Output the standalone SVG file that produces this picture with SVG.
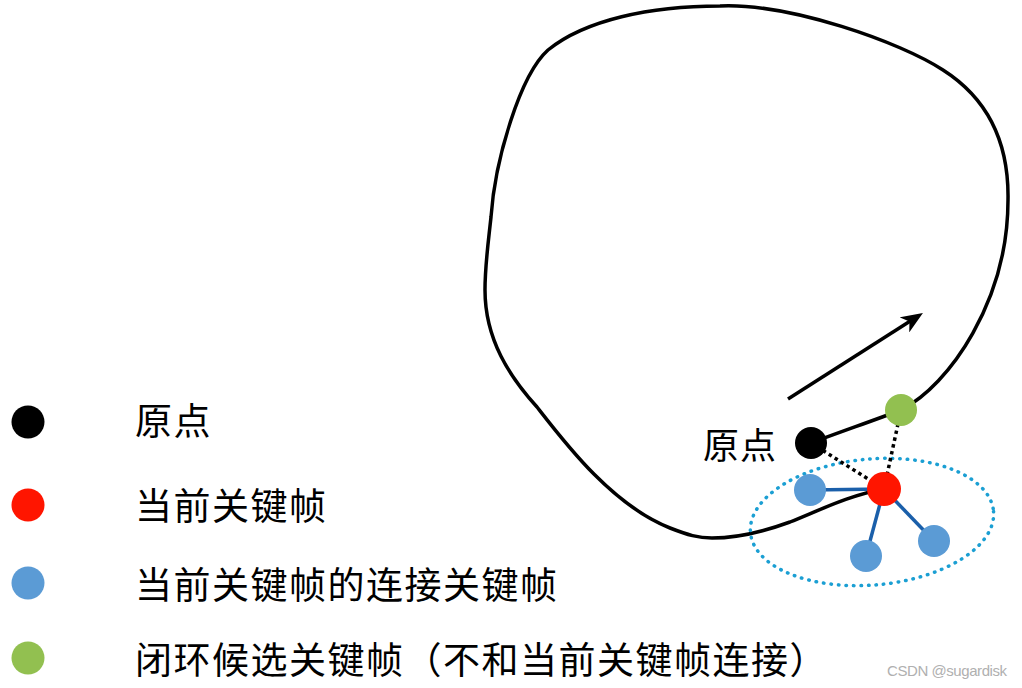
<svg xmlns="http://www.w3.org/2000/svg" width="1022" height="688" viewBox="0 0 1022 688">
<style>
.cjk{font-family:"Noto Sans CJK SC","Noto Sans",sans-serif;fill:#000;}
.leg{font-size:37px;letter-spacing:1.5px;}
.blk{fill:#000;}
.red{fill:#ff1500;}
.blu{fill:#5b9bd5;}
.grn{fill:#92c050;}
.edge{stroke:#1a5faa;stroke-width:3.5;fill:none;}
.dot{stroke:#000;stroke-width:3.5;stroke-dasharray:3.5 3.5;fill:none;}
</style>
<defs>
<marker id="ah" viewBox="0 0 22 18" refX="14" refY="9" markerWidth="22" markerHeight="18" markerUnits="userSpaceOnUse" orient="auto">
<path d="M0,0 L22,9 L0,18 L6,9 z" fill="#000"/>
</marker>
</defs>
<rect width="1022" height="688" fill="#fff"/>
<g id="trajectory">
<path d="M811,443 C840,432 875,420 901,410 C950,385 1008,300 1008,200 C1009,145 990,100 943,70 C900,42 790,3 720,6 C650,6 585,20 548,50 C520,75 495,160 491,217 C488,245 485,265 485,290 C485,340 510,377 537,407 C565,443 612,505 670,528 C688,535 698,538 712,538 C735,538 760,533 790,522 C820,510 850,495 884,489" fill="none" stroke="#000" stroke-width="3.5"/>
</g>
<g id="direction-arrow">
<line x1="788" y1="399" x2="916.2" y2="317.3" stroke="#000" stroke-width="3.5" marker-end="url(#ah)"/>
</g>
<g id="covisibility-region">
<ellipse cx="872" cy="522" rx="122" ry="63" transform="rotate(-5 872 522)" fill="none" stroke="#1b9fd3" stroke-width="3.5" stroke-linecap="round" stroke-dasharray="0.5 7"/>
</g>
<g id="connectors">
<line class="dot" x1="811" y1="443" x2="884" y2="489"/>
<line class="dot" x1="901" y1="410" x2="884" y2="489"/>
<line class="edge" x1="810" y1="490" x2="884" y2="489"/>
<line class="edge" x1="884" y1="489" x2="866" y2="556"/>
<line class="edge" x1="884" y1="489" x2="934" y2="541"/>
</g>
<g id="node-origin"><circle class="blk" cx="811" cy="443" r="16"/><text class="cjk" x="703" y="459" font-size="36" letter-spacing="1">原点</text></g>
<g id="node-loop-candidate"><circle class="grn" cx="901" cy="410" r="16"/></g>
<g id="node-current"><circle class="red" cx="884" cy="489" r="17"/></g>
<g id="node-conn-1"><circle class="blu" cx="810" cy="490" r="16"/></g>
<g id="node-conn-2"><circle class="blu" cx="866" cy="556" r="16"/></g>
<g id="node-conn-3"><circle class="blu" cx="934" cy="541" r="16"/></g>
<g id="legend">
<g id="legend-origin"><circle class="blk" cx="28" cy="422" r="16.5"/><text class="cjk leg" x="135" y="435">原点</text></g>
<g id="legend-current"><circle class="red" cx="28" cy="505" r="16.5"/><text class="cjk leg" x="135" y="520">当前关键帧</text></g>
<g id="legend-connected"><circle class="blu" cx="28" cy="583" r="16.5"/><text class="cjk leg" x="135" y="599">当前关键帧的连接关键帧</text></g>
<g id="legend-candidate"><circle class="grn" cx="28" cy="658" r="16.5"/><text class="cjk leg" x="135" y="674">闭环候选关键帧（不和当前关键帧连接）</text></g>
</g>
<text x="887" y="676" font-family="Liberation Sans, sans-serif" font-size="15" fill="#b0b0b0" textLength="120">CSDN @sugardisk</text>
</svg>
